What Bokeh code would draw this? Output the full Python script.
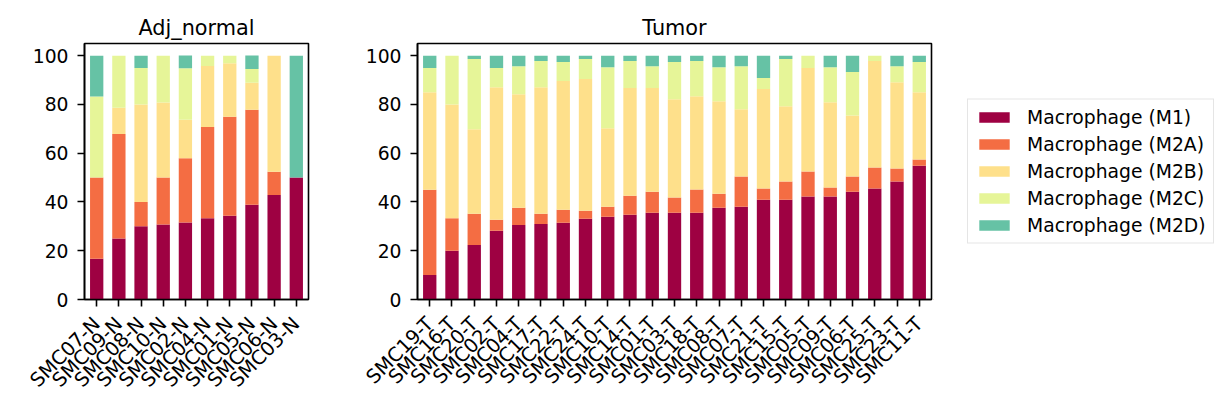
import math
from bokeh.plotting import figure
from bokeh.models import FixedTicker, Range1d, Legend, LegendItem, ColumnDataSource
from bokeh.layouts import row
from bokeh.embed import file_html
from bokeh.resources import INLINE

cell_types = ["Macrophage (M1)", "Macrophage (M2A)", "Macrophage (M2B)",
              "Macrophage (M2C)", "Macrophage (M2D)"]
keys = ["M1", "M2A", "M2B", "M2C", "M2D"]
colors = ["#9e0142", "#f46d43", "#fee08b", "#e6f598", "#66c2a5"]

normal_samples = ["SMC07-N", "SMC09-N", "SMC08-N", "SMC10-N", "SMC02-N",
                  "SMC04-N", "SMC01-N", "SMC05-N", "SMC06-N", "SMC03-N"]
normal_m1 = [16.7, 25.0, 30.0, 30.8, 31.6, 33.3, 34.4, 38.9, 42.9, 50.0]
normal_m2a = [33.3, 42.9, 10.0, 19.2, 26.3, 37.5, 40.6, 38.9, 9.5, 0.0]
normal_m2b = [0.0, 10.7, 40.0, 30.8, 15.8, 25.0, 21.9, 11.1, 47.6, 0.0]
normal_m2c = [33.3, 21.4, 15.0, 19.2, 21.1, 4.2, 3.1, 5.6, 0.0, 0.0]
normal_m2d = [16.7, 0.0, 5.0, 0.0, 5.3, 0.0, 0.0, 5.6, 0.0, 50.0]

tumor_samples = ["SMC19-T", "SMC16-T", "SMC20-T", "SMC02-T", "SMC04-T", "SMC17-T",
                 "SMC22-T", "SMC24-T", "SMC10-T", "SMC14-T", "SMC01-T", "SMC03-T",
                 "SMC18-T", "SMC08-T", "SMC07-T", "SMC21-T", "SMC15-T", "SMC05-T",
                 "SMC09-T", "SMC06-T", "SMC25-T", "SMC23-T", "SMC11-T"]
tumor_m1 = [10.0, 20.0, 22.4, 28.2, 30.6, 31.0, 31.5, 33.1, 33.9, 34.8, 35.6, 35.6,
            35.6, 37.6, 38.0, 40.9, 40.9, 42.2, 42.2, 44.2, 45.5, 48.4, 54.9]
tumor_m2a = [35.0, 13.3, 12.8, 4.5, 7.0, 4.2, 5.3, 3.3, 4.1, 7.8, 8.6, 6.2,
             9.5, 5.8, 12.4, 4.6, 7.5, 10.3, 3.7, 6.2, 8.6, 5.3, 2.5]
tumor_m2b = [40.0, 46.7, 34.6, 54.4, 46.6, 51.9, 52.8, 54.0, 32.2, 44.1, 42.5, 40.3,
             38.3, 37.9, 27.6, 40.8, 30.9, 42.4, 35.0, 25.1, 43.7, 35.4, 27.6]
tumor_m2c = [10.0, 20.0, 28.8, 7.8, 11.5, 10.7, 7.8, 8.2, 25.1, 11.1, 9.0, 15.3,
             14.4, 14.0, 17.7, 4.5, 19.3, 5.1, 14.4, 17.8, 2.2, 6.6, 12.4]
tumor_m2d = [5.0, 0.0, 1.4, 5.1, 4.3, 2.2, 2.6, 1.4, 4.7, 2.2, 4.3, 2.6,
             2.2, 4.7, 4.3, 9.2, 1.4, 0.0, 4.7, 6.7, 0.0, 4.3, 2.6]

FONT = "DejaVu Sans"
TICK_PX = "18.75px"
TOP = 43
BOTTOM = 105


def stacked_panel(title, samples, series, frame_width, border_left, border_right):
    n = len(samples)
    data = dict(pos=list(range(n)), sample=samples)
    for k, vals in zip(keys, series):
        data[k] = vals
    source = ColumnDataSource(data)

    p = figure(
        title=title,
        frame_width=frame_width, frame_height=256,
        x_range=Range1d(-0.55, n - 0.45), y_range=Range1d(0, 105),
        min_border_left=border_left, min_border_right=border_right,
        min_border_top=TOP, min_border_bottom=BOTTOM,
        toolbar_location=None, output_backend="svg",
    )
    p.vbar_stack(keys, x="pos", width=0.6, color=colors, line_color=None, source=source)

    p.title.align = "center"
    p.title.text_font = FONT
    p.title.text_font_size = "20.8px"
    p.title.text_font_style = "normal"
    p.title.text_color = "black"
    p.title.standoff = 8

    p.xgrid.visible = False
    p.ygrid.visible = False
    p.outline_line_color = "black"
    p.outline_line_width = 1.6
    p.outline_line_alpha = 1

    p.xaxis.ticker = FixedTicker(ticks=list(range(n)))
    p.xaxis.major_label_overrides = {i: s for i, s in enumerate(samples)}
    p.xaxis.major_label_orientation = math.pi / 4
    p.yaxis.ticker = FixedTicker(ticks=[0, 20, 40, 60, 80, 100])

    for ax in (p.xaxis, p.yaxis):
        ax.axis_line_color = "black"
        ax.axis_line_width = 1.6
        ax.major_tick_line_color = "black"
        ax.major_tick_line_width = 1.6
        ax.major_tick_in = 0
        ax.major_tick_out = 7
        ax.minor_tick_line_color = None
        ax.major_label_text_font = FONT
        ax.major_label_text_font_size = TICK_PX
        ax.major_label_text_color = "black"
    p.xaxis.major_label_text_font_size = "19.5px"
    p.yaxis.major_label_standoff = 9
    p.xaxis.major_label_standoff = 14
    return p


p1 = stacked_panel("Adj_normal", normal_samples,
                   [normal_m1, normal_m2a, normal_m2b, normal_m2c, normal_m2d],
                   224, 84, 30)
p2 = stacked_panel("Tumor", tumor_samples,
                   [tumor_m1, tumor_m2a, tumor_m2b, tumor_m2c, tumor_m2d],
                   514, 79, 2)

# legend lives in its own empty panel to the right
p3 = figure(
    frame_width=285, frame_height=256,
    x_range=Range1d(0, 1), y_range=Range1d(0, 1),
    min_border_left=0, min_border_right=0, min_border_top=TOP, min_border_bottom=BOTTOM,
    x_axis_type=None, y_axis_type=None,
    toolbar_location=None, output_backend="svg",
)
p3.outline_line_color = None
p3.xgrid.visible = False
p3.ygrid.visible = False
items = []
for label, c in zip(cell_types, colors):
    r = p3.vbar(x=[-5], top=[-5], width=0.5, color=c, line_color=None)
    items.append(LegendItem(label=label, renderers=[r]))
legend = Legend(items=items, location="center_left", margin=34)
legend.label_text_font = FONT
legend.label_text_font_size = TICK_PX
legend.label_text_color = "black"
legend.glyph_width = 38
legend.glyph_height = 13
legend.label_standoff = 14
legend.padding = 7
legend.spacing = 6
legend.border_line_color = "#cccccc"
legend.border_line_width = 1.6
legend.background_fill_alpha = 0.8
p3.add_layout(legend)

layout = row(p1, p2, p3)

open("out.html", "w").write(file_html(layout, INLINE))
